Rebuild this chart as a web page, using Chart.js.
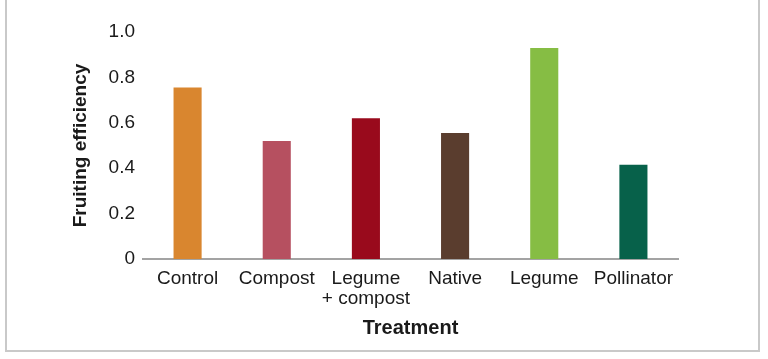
<!DOCTYPE html>
<html lang="en">
<head>
  <meta charset="UTF-8">
  <title>Fruiting efficiency by treatment</title>
  <script src="https://cdn.jsdelivr.net/npm/chart.js"></script>
  <style>
    html, body { margin: 0; padding: 0; background: #fff; }
    body { width: 768px; height: 359px; position: relative; overflow: hidden; }
    .frame {
      position: absolute; left: 5px; top: -5px; width: 755px; height: 357px;
      box-sizing: border-box; border: 2px solid #c9c9c9;
    }
    canvas { position: absolute; left: 0; top: 0; }
  </style>
</head>
<body>
  <div class="frame"></div>
  <canvas id="fruitChart" width="768" height="359"></canvas>

  <script>
    // treatments along the x axis (multi-line label for the combined one)
    const treatments = ['Control', 'Compost', ['Legume', '+ compost'], 'Native', 'Legume', 'Pollinator'];
    const fruitingEfficiency = [0.755, 0.52, 0.62, 0.555, 0.93, 0.415];
    const barColors = ['#D9862F', '#B65060', '#990A1C', '#5A3D2E', '#86BD44', '#07614A'];
    const yTicks = [0, 0.2, 0.4, 0.6, 0.8, 1.0];

    const textColor = '#1a1a1a';
    const fontFamily = '"Liberation Sans", Arial, sans-serif';

    const ctx = document.getElementById('fruitChart').getContext('2d');
    new Chart(ctx, {
      type: 'bar',
      data: {
        labels: treatments,
        datasets: [{
          label: 'Fruiting efficiency',
          data: fruitingEfficiency,
          backgroundColor: barColors,
          borderWidth: 0,
          barPercentage: 0.315,
          categoryPercentage: 1
        }]
      },
      options: {
        responsive: false,
        animation: false,
        layout: { padding: { left: 69, right: 90, top: 32, bottom: 0 } },
        plugins: {
          legend: { display: false },
          tooltip: { enabled: false }
        },
        scales: {
          x: {
            grid: { display: false, drawTicks: false },
            border: { display: true, color: '#a3a3a3', width: 2 },
            ticks: {
              color: textColor,
              padding: 10,
              maxRotation: 0,
              autoSkip: false,
              font: { family: fontFamily, size: 19, lineHeight: '20px' }
            },
            title: {
              display: true,
              text: 'Treatment',
              color: textColor,
              padding: { top: 0, bottom: 19 },
              font: { family: fontFamily, size: 20, weight: 'bold' }
            },
            afterFit(scale) { scale.height = 100; }
          },
          y: {
            min: 0,
            max: 1,
            grid: { display: false, drawTicks: false },
            border: { display: false },
            afterBuildTicks(scale) { scale.ticks = yTicks.map(v => ({ value: v })); },
            ticks: {
              color: textColor,
              padding: 8,
              font: { family: fontFamily, size: 19 },
              callback: v => v === 0 ? '0' : v.toFixed(1)
            },
            title: {
              display: true,
              text: 'Fruiting efficiency',
              color: textColor,
              padding: { top: 0, bottom: 0 },
              font: { family: fontFamily, size: 19, weight: 'bold' }
            },
            afterFit(scale) { scale.width = 74; }
          }
        }
      }
    });
  </script>
</body>
</html>
